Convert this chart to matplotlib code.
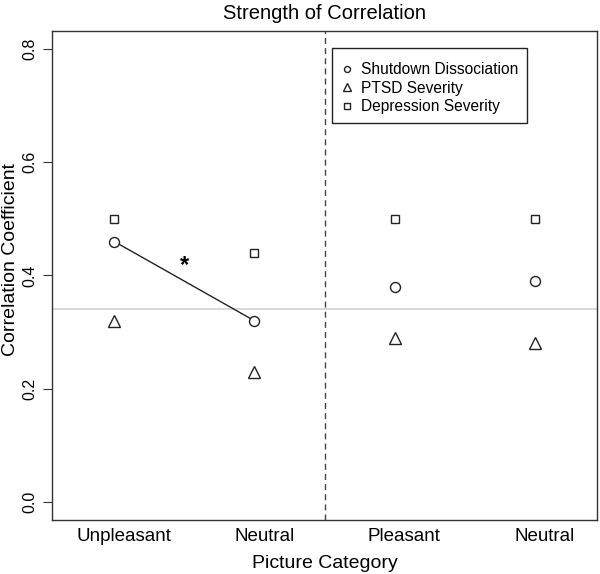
import numpy as np
import matplotlib
matplotlib.use("Agg")
import matplotlib.pyplot as plt
from matplotlib.patches import Rectangle

plt.rcParams['font.family'] = ['Liberation Sans', 'DejaVu Sans']

# picture categories (two blocks separated by the dashed line)
categories = ["Unpleasant", "Neutral", "Pleasant", "Neutral"]

# correlation coefficients
shutdown = [0.46, 0.32, 0.38, 0.39]
ptsd = [0.32, 0.23, 0.29, 0.28]
depression = [0.50, 0.44, 0.50, 0.50]

reference_r = 0.34  # grey horizontal reference line
yticks = [0.0, 0.2, 0.4, 0.6, 0.8]

x = np.arange(1, len(categories) + 1)

fig = plt.figure(figsize=(6.0, 5.74), dpi=100)
ax = fig.add_axes([0.0867, 0.0941, 0.9083, 0.852])

ax.axhline(reference_r, color='#d2d2d2', lw=1.2, zorder=1)
ax.axvline(2.5, color='#444444', lw=1.0, ls=(0, (4.3, 3.0)), zorder=1)

# significant difference between unpleasant and neutral (shutdown dissociation)
ax.plot(x[:2], shutdown[:2], color='#222222', lw=1.0, zorder=2)
ax.text(1.5, 0.418, '*', ha='center', va='center', fontsize=17,
        fontweight='bold')

mk = dict(ls='none', mfc='white', mec='#222222', mew=1.0, zorder=3)
ax.plot(x, shutdown, marker='o', ms=7.2, label='Shutdown Dissociation', **mk)
ax.plot(x, ptsd, marker='^', ms=8.6, label='PTSD Severity', **mk)
ax.plot(x, depression, marker='s', ms=6.3, label='Depression Severity', **mk)

ax.set_xlim(0.556, 4.444)
ax.set_ylim(-0.032, 0.832)
ax.set_xticks(x + 0.07)
ax.set_xticklabels(categories, fontsize=13.5)
ax.tick_params(axis='x', length=0, pad=6)
ax.set_yticks(yticks)
ax.set_yticklabels([f"{v:.1f}" for v in yticks], fontsize=11.5, rotation=90,
                   va='center')
ax.tick_params(axis='y', length=6.5, width=0.8, pad=4, color='#333333')

for s in ax.spines.values():
    s.set_linewidth(1.0)
    s.set_color('#333333')

ax.set_title('Strength of Correlation', fontsize=14.5, y=1.036, pad=0,
             va='center')
ax.set_xlabel('Picture Category', fontsize=14, va='center')
ax.xaxis.set_label_coords(0.5, -0.088)
ax.set_ylabel('Correlation Coefficient', fontsize=14, va='center')
ax.yaxis.set_label_coords(-0.077, 0.532)

# legend: R-style box with small symbols
box = Rectangle((0.514, 0.812), 0.358, 0.153, transform=ax.transAxes,
                fill=False, ec='#222222', lw=1.0, zorder=4)
ax.add_patch(box)
leg = ax.legend(loc='upper left', bbox_to_anchor=(0.514, 0.946), fontsize=11.2,
                frameon=False, markerscale=0.6, borderpad=0.3,
                handletextpad=0.25, handlelength=1.3, labelspacing=0.24,
                borderaxespad=0)

fig.savefig('out.png', dpi=100)
